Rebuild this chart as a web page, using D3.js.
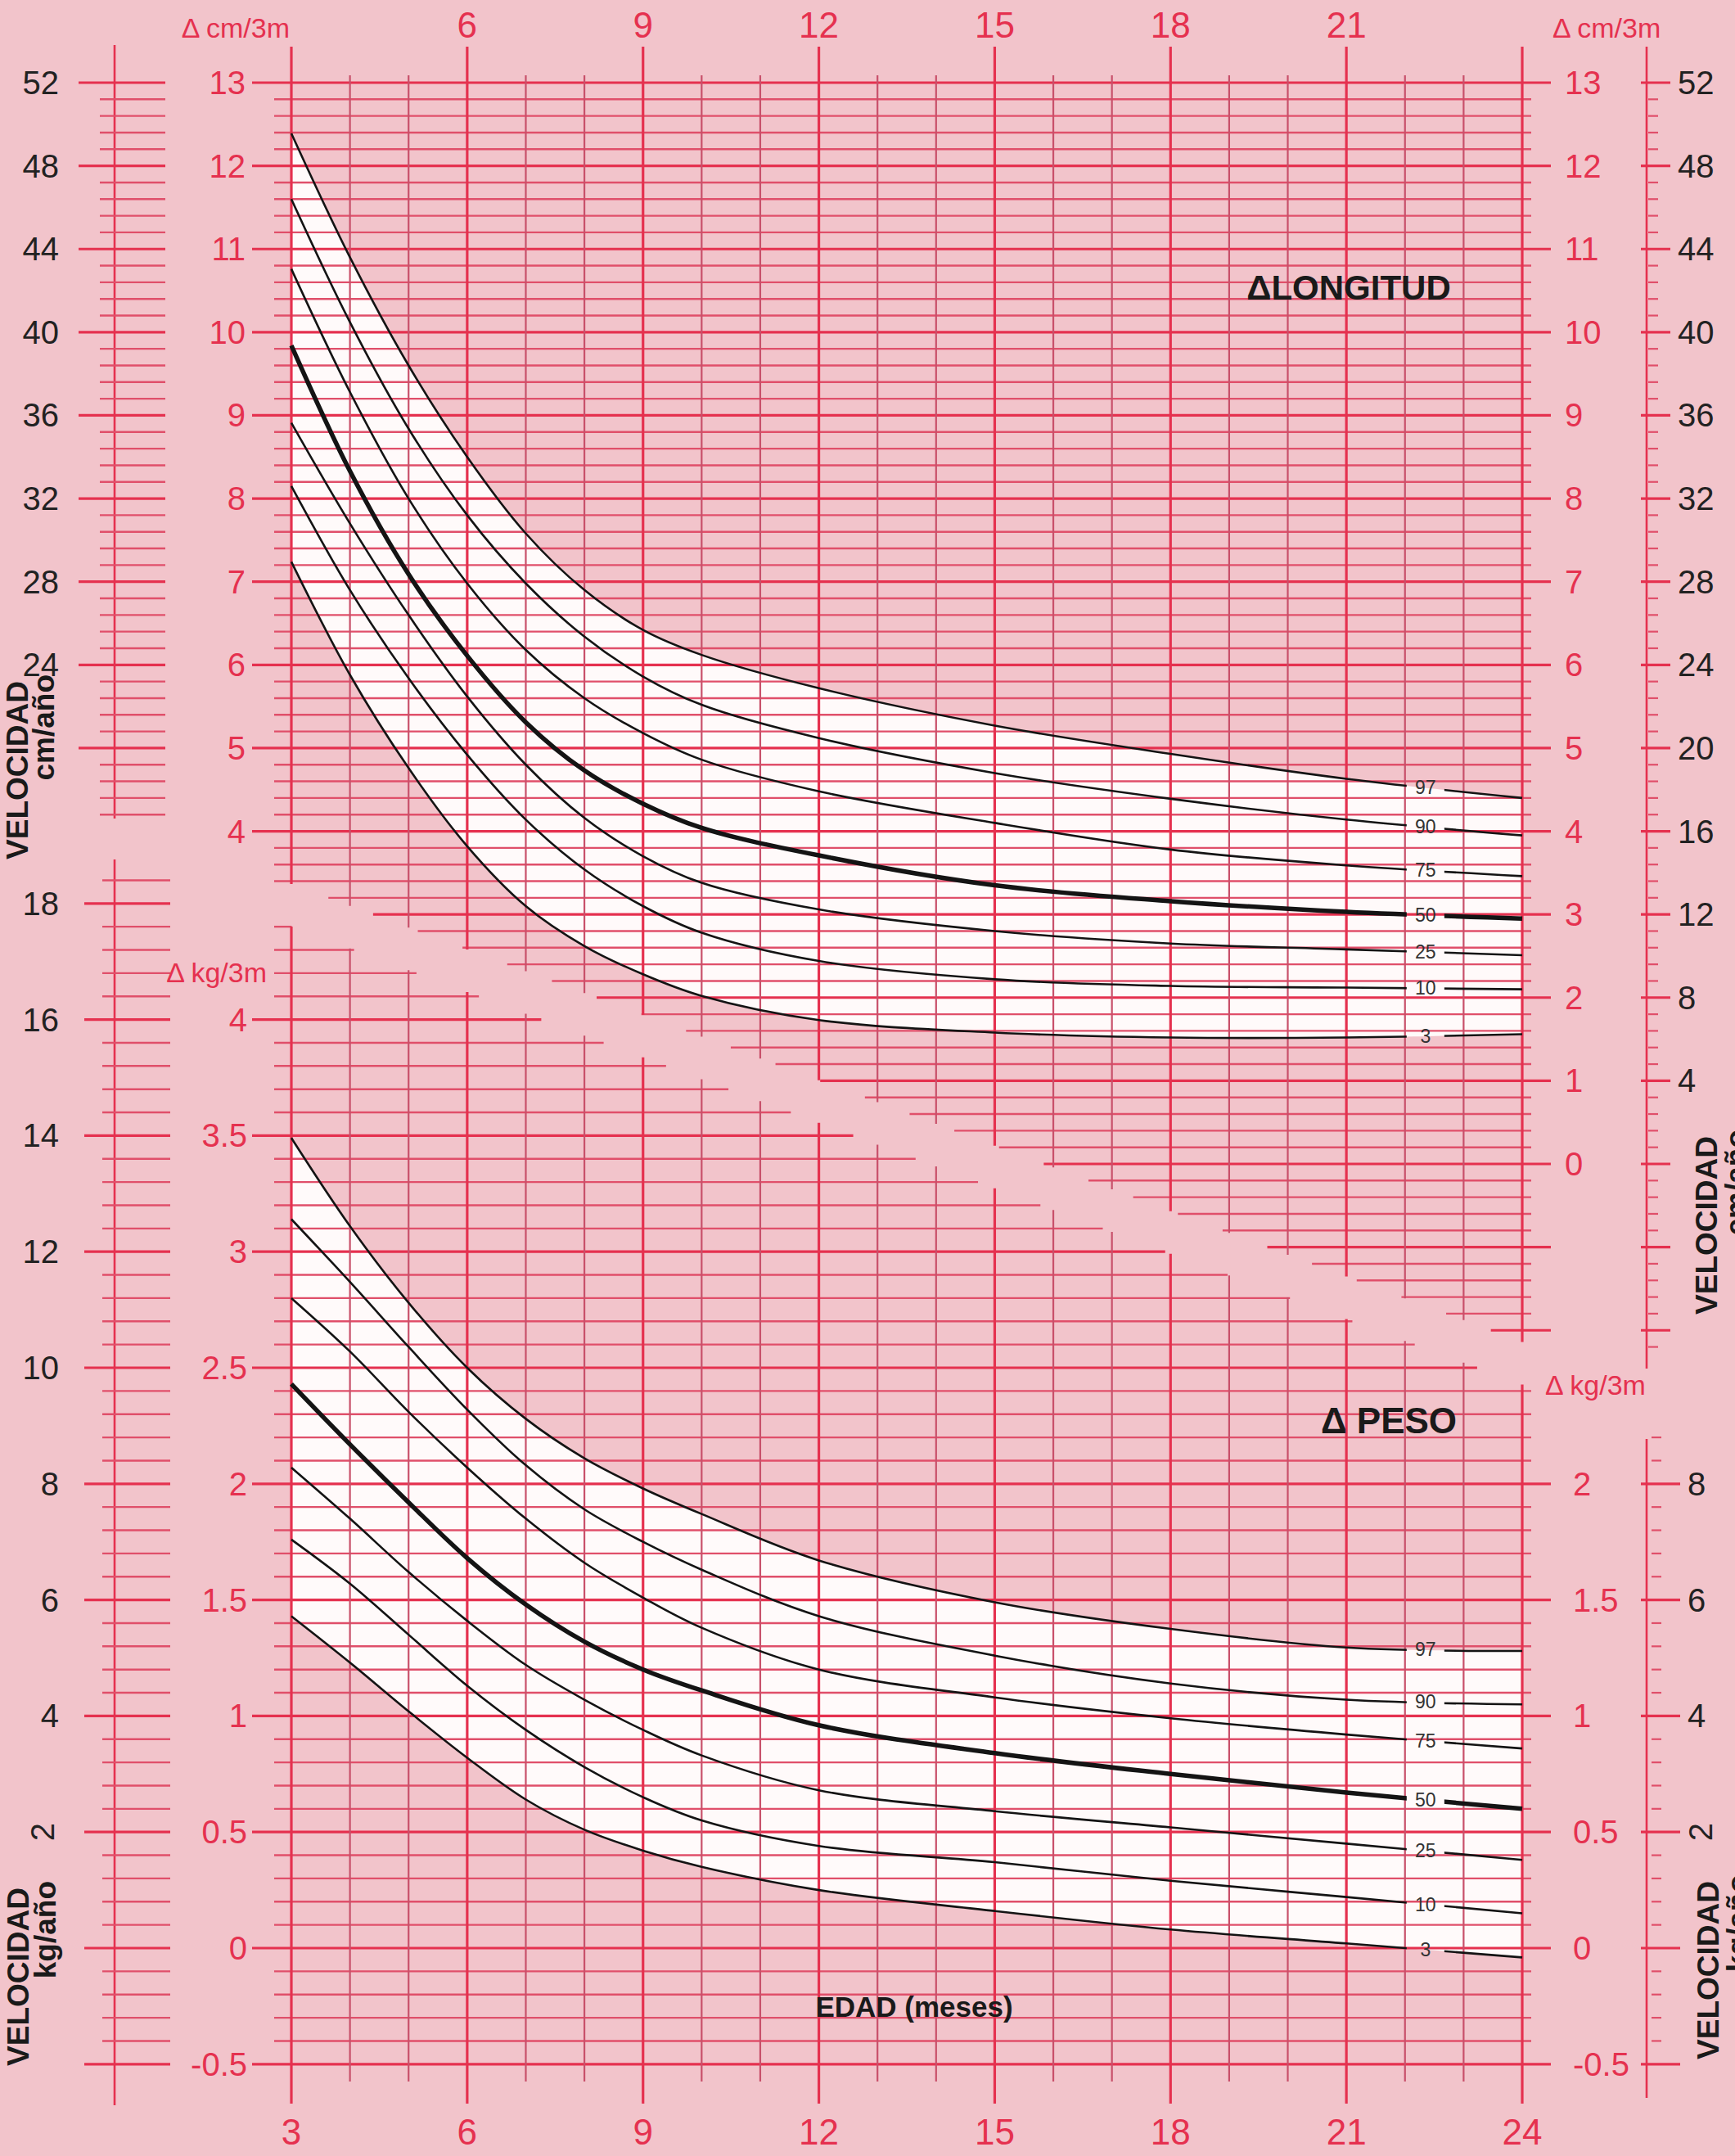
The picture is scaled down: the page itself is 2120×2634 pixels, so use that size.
<!DOCTYPE html>
<html><head><meta charset="utf-8">
<script src="https://cdn.jsdelivr.net/npm/d3@7"></script>
<style>
html,body{margin:0;padding:0;background:#f2c4cb;}
svg{display:block;}
text{font-family:"Liberation Sans",Arial,sans-serif;}
</style></head><body>
<svg id="c" width="2120" height="2634"></svg>
<script>
// ---------------- DATA ----------------
const months = [3,4,5,6,7,8,9,10,12,15,18,21,24];
const percentiles = [3,10,25,50,75,90,97];
// Δ longitud (cm / 3 meses)
const lenP97 = [12.39,10.90,9.60,8.50,7.58,6.90,6.42,6.12,5.72,5.27,4.93,4.63,4.40];
const lenP90 = [11.60,10.12,8.84,7.80,6.98,6.34,5.86,5.52,5.12,4.70,4.39,4.14,3.95];
const lenP75 = [10.76,9.28,8.00,6.98,6.18,5.60,5.18,4.86,4.48,4.10,3.78,3.59,3.46];
const lenP50 = [9.84,8.33,7.09,6.11,5.31,4.73,4.33,4.04,3.71,3.35,3.16,3.03,2.95];
const lenP25 = [8.91,7.70,6.60,5.62,4.80,4.16,3.70,3.38,3.06,2.80,2.65,2.58,2.51];
const lenP10 = [8.15,6.90,5.84,4.92,4.14,3.54,3.10,2.78,2.44,2.22,2.14,2.12,2.10];
const lenP3  = [7.24,5.88,4.76,3.82,3.10,2.62,2.28,2.02,1.73,1.58,1.52,1.52,1.56];
// Δ peso (kg / 3 meses)
const wP97 = [3.49,3.11,2.78,2.50,2.28,2.11,1.98,1.87,1.67,1.49,1.375,1.295,1.28];
const wP90 = [3.14,2.87,2.59,2.32,2.08,1.89,1.75,1.63,1.43,1.26,1.14,1.07,1.05];
const wP75 = [2.80,2.57,2.31,2.07,1.85,1.66,1.51,1.38,1.20,1.08,0.99,0.92,0.86];
const wP50 = [2.43,2.17,1.92,1.68,1.48,1.32,1.20,1.11,0.96,0.84,0.75,0.67,0.60];
const wP25 = [2.07,1.85,1.62,1.41,1.22,1.07,0.94,0.83,0.68,0.59,0.52,0.45,0.38];
const wP10 = [1.76,1.57,1.35,1.13,0.94,0.78,0.65,0.55,0.44,0.37,0.29,0.22,0.15];
const wP3  = [1.43,1.23,1.02,0.82,0.64,0.51,0.42,0.35,0.25,0.16,0.08,0.02,-0.04];
// tick labels
const monthTicksTop = [6,9,12,15,18,21];
const monthTicksBottom = [3,6,9,12,15,18,21,24];
const lenTicksLeft = [13,12,11,10,9,8,7,6,5,4];
const lenTicksRight = [13,12,11,10,9,8,7,6,5,4,3,2,1,0];
const cmYearLeft = [52,48,44,40,36,32,28,24];
const cmYearRight = [52,48,44,40,36,32,28,24,20,16,12,8,4];
const wTicksLeft = [4,3.5,3,2.5,2,1.5,1,0.5,0,-0.5];
const wTicksRight = [2,1.5,1,0.5,0,-0.5];
const kgYearLeft = [18,16,14,12,10,8,6,4,2];
const kgYearRight = [8,6,4,2];

// ---------------- SETUP ----------------
const W=2120,H=2634;
const svg=d3.select('#c');
const RED='#e5314f', MINH='#e04f6a', MINV='#c8506a', INK='#222';
svg.append('rect').attr('width',W).attr('height',H).attr('fill','#f2c4cb');

const x = d3.scaleLinear().domain([3,24]).range([356,1860]);
const yL = d3.scaleLinear().domain([0,13]).range([1422,101]);
const yW = d3.scaleLinear().domain([0,4]).range([2380,1245.6]);
const SLOPE=0.372;
const topB = px => 1080 + (px-356)*SLOPE;
const botB = px => 1132 + (px-356)*SLOPE;
const curve = d3.curveCatmullRom.alpha(0.5);

const gFill=svg.append('g'), gGrid=svg.append('g'), gCurve=svg.append('g'), gText=svg.append('g');

function band(lo,hi,ys){
  return d3.area().x((d,i)=>x(months[i])).y0((d,i)=>ys(lo[i])).y1((d,i)=>ys(hi[i])).curve(curve)(months);
}
gFill.append('path').attr('d',band(lenP3,lenP97,yL)).attr('fill','#fffafa');
gFill.append('path').attr('d',band(wP3,wP97,yW)).attr('fill','#fffafa');

function hline(g,x1,x2,y,c,w){ g.append('line').attr('x1',x1).attr('x2',x2).attr('y1',y).attr('y2',y).attr('stroke',c).attr('stroke-width',w); }
function vline(g,xx,y1,y2,c,w){ g.append('line').attr('x1',xx).attr('x2',xx).attr('y1',y1).attr('y2',y2).attr('stroke',c).attr('stroke-width',w); }

// ---- top grid (longitud) ----
d3.range(0,76).forEach(i=>{
  const v=13-i*0.2, y=yL(v), major=(i%5===0);
  const bx=356+(y-1080)/SLOPE;
  const x1 = y<=1080.5 ? (major?308:335) : bx;
  const x2 = major?1895:1871;
  if(x1<x2) hline(gGrid,x1,x2,y,major?RED:MINH,major?3.2:2.4);
});
// ---- bottom grid (peso) ----
d3.range(0,50).forEach(i=>{
  const v=4.4-i*0.1, y=yW(v), major=((44-i)%5===0);
  const bx=356+(y-1132)/SLOPE;
  const x1 = major?308:335;
  const x2 = Math.min(major?1895:1871, Math.max(bx,356));
  if(x1<x2) hline(gGrid,x1,x2,y,major?RED:MINH,major?3.2:2.4);
});
// ---- vertical lines ----
d3.range(3,25).forEach(m=>{
  const px=x(m), major=(m%3===0);
  vline(gGrid,px,major?57:92,topB(px),major?RED:MINV,major?3.2:2.2);
  vline(gGrid,px,botB(px),major?2570:2543,major?RED:MINV,major?3.2:2.2);
});

// ---- outer scales ----
vline(gGrid,140,55,1000,RED,2.6);
d3.range(0,45).forEach(i=>{ const v=13-i*0.2, y=yL(v), major=(i%5===0);
  hline(gGrid,major?96:122,202,y,major?RED:MINH,major?3.2:2.4); });
vline(gGrid,140,1050,2572,RED,2.6);
d3.range(0,52).forEach(i=>{ const v=4.6-i*0.1, y=yW(v), major=((46-i)%5===0);
  hline(gGrid,major?103:125,208,y,major?RED:MINH,major?3.2:2.4); });
vline(gGrid,2012,57,1672,RED,2.6);
d3.range(0,77).forEach(i=>{ const v=13-i*0.2, y=yL(v), major=(i%5===0);
  hline(gGrid,major?2005:2014,major?2041:2026,y,major?RED:MINH,major?3.2:2.2); });
vline(gGrid,2012,1758,2563,RED,2.6);
d3.range(0,28).forEach(i=>{ const v=2.2-i*0.1, y=yW(v), major=((22-i)%5===0);
  hline(gGrid,major?2005:2018,major?2053:2030,y,major?RED:MINH,major?3.2:2.2); });

// ---- percentile curves ----
const lenSeries=[lenP3,lenP10,lenP25,lenP50,lenP75,lenP90,lenP97];
const wSeries=[wP3,wP10,wP25,wP50,wP75,wP90,wP97];
const LABX=22.35;
function valAt(arr,m){ for(let i=0;i<months.length-1;i++){ if(m>=months[i]&&m<=months[i+1]){ const t=(m-months[i])/(months[i+1]-months[i]); return arr[i]+t*(arr[i+1]-arr[i]); } } return arr[arr.length-1]; }
const defs=svg.append('defs');
function drawSet(series,ys,id){
  const mask=defs.append('mask').attr('id',id).attr('maskUnits','userSpaceOnUse').attr('x',0).attr('y',0).attr('width',W).attr('height',H);
  mask.append('rect').attr('width',W).attr('height',H).attr('fill','#fff');
  series.forEach(arr=>{
    const ly=ys(valAt(arr,LABX));
    mask.append('rect').attr('x',x(LABX)-23).attr('y',ly-16).attr('width',46).attr('height',32).attr('fill','#000');
  });
  const g=gCurve.append('g').attr('mask',`url(#${id})`);
  series.forEach((arr,k)=>{
    const p=percentiles[k];
    g.append('path').attr('d',d3.line().x((d,i)=>x(months[i])).y(d=>ys(d)).curve(curve)(arr))
      .attr('fill','none').attr('stroke','#141414').attr('stroke-width',p===50?5.5:2.6);
    gText.append('text').attr('x',x(LABX)).attr('y',ys(valAt(arr,LABX))).attr('text-anchor','middle')
      .attr('dominant-baseline','central').attr('font-size',23).attr('fill','#333').text(p);
  });
}
drawSet(lenSeries,yL,'mL');
drawSet(wSeries,yW,'mW');

// ---- text ----
function txt(xx,yy,s,opt={}){
  const t=gText.append('text').attr('x',xx).attr('y',yy).text(s)
    .attr('font-size',opt.size||40).attr('fill',opt.fill||RED)
    .attr('text-anchor',opt.anchor||'middle').attr('dominant-baseline',opt.base||'central');
  if(opt.bold) t.attr('font-weight','bold');
  if(opt.rot) t.attr('transform',`rotate(${opt.rot},${xx},${yy})`);
  return t;
}
monthTicksTop.forEach(m=>txt(x(m),30,m,{size:44}));
monthTicksBottom.forEach(m=>txt(x(m),2604,m,{size:44}));
lenTicksLeft.forEach(v=>txt(300,yL(v),v,{anchor:'end'}));
lenTicksRight.forEach(v=>txt(1912,yL(v),v,{anchor:'start'}));
wTicksLeft.forEach(v=>txt(302,yW(v),String(v),{anchor:'end'}));
wTicksRight.forEach(v=>txt(1922,yW(v),String(v),{anchor:'start'}));
cmYearLeft.forEach(v=>txt(72,yL(v/4),v,{anchor:'end',fill:INK}));
cmYearRight.forEach(v=>txt(2050,yL(v/4),v,{anchor:'start',fill:INK}));
kgYearLeft.forEach(v=>{ if(v===2) txt(52,yW(v/4),v,{fill:INK,rot:-90}); else txt(72,yW(v/4),v,{anchor:'end',fill:INK}); });
kgYearRight.forEach(v=>{ if(v===2) txt(2078,yW(v/4),v,{fill:INK,rot:-90}); else txt(2062,yW(v/4),v,{anchor:'start',fill:INK}); });

txt(354,34,'Δ cm/3m',{anchor:'end',size:34});
txt(1897,34,'Δ cm/3m',{anchor:'start',size:34});
txt(326,1188,'Δ kg/3m',{anchor:'end',size:34});
txt(1888,1692,'Δ kg/3m',{anchor:'start',size:34});

txt(1648,351,'ΔLONGITUD',{size:42,bold:true,fill:'#1a1a1a'});
txt(1697,1735,'Δ PESO',{size:44,bold:true,fill:'#1a1a1a'});
txt(1117,2451,'EDAD (meses)',{size:35,bold:true,fill:'#1a1a1a'});

function vel(xb,yEnd,word,unit,xu){
  gText.append('text').attr('transform',`translate(${xb},${yEnd}) rotate(-90)`).attr('text-anchor','end')
    .attr('font-size',37).attr('font-weight','bold').attr('fill','#1a1a1a').text(word);
  gText.append('text').attr('transform',`translate(${xu},${yEnd-8}) rotate(-90)`).attr('text-anchor','end')
    .attr('font-size',37).attr('font-weight','bold').attr('fill','#1a1a1a').text(unit);
}
vel(34,832,'VELOCIDAD','cm/año',66);
vel(35,2306,'VELOCIDAD','kg/año',68);
vel(2098,1388,'VELOCIDAD','cm/año',2134);
vel(2100,2298,'VELOCIDAD','kg/año',2136);
</script>
</body></html>
